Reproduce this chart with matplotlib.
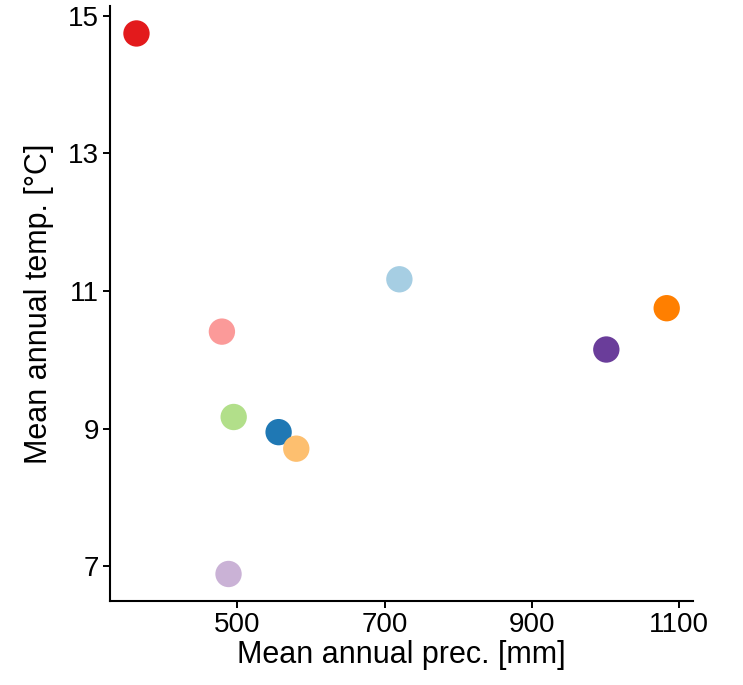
import matplotlib
matplotlib.use("Agg")
import matplotlib.pyplot as plt

plt.rcParams['font.family'] = ['Liberation Sans', 'DejaVu Sans']

# mean annual precipitation [mm] and temperature [degC]
prec = [363, 479, 495, 556, 580, 488, 720, 1001, 1083]
temp = [14.74, 10.41, 9.17, 8.95, 8.71, 6.89, 11.17, 10.15, 10.75]
colors = ['#E31A1C', '#FB9A99', '#B2DF8A', '#1F78B4', '#FDBF6F',
          '#CAB2D6', '#A6CEE3', '#6A3D9A', '#FF7F00']

xticks = [500, 700, 900, 1100]
yticks = [7, 9, 11, 13, 15]

fig = plt.figure(figsize=(7.43, 6.85), dpi=100)
ax = fig.add_axes([0.148, 0.1226, 0.785, 0.868])

ax.scatter(prec, temp, s=360, c=colors, edgecolors='none', zorder=3)

# ggplot-like 5% expansion
xr = max(prec) - min(prec)
yr = max(temp) - min(temp)
ax.set_xlim(min(prec) - 0.05 * xr, max(prec) + 0.05 * xr)
ax.set_ylim(min(temp) - 0.05 * yr, max(temp) + 0.05 * yr)

ax.set_xticks(xticks)
ax.set_yticks(yticks)
ax.tick_params(labelsize=20, length=5, width=1.4, color='black', pad=3)

for side in ['top', 'right']:
    ax.spines[side].set_visible(False)
for side in ['left', 'bottom']:
    ax.spines[side].set_linewidth(1.5)

ax.set_xlabel('Mean annual prec. [mm]', fontsize=22, labelpad=1)
ax.set_ylabel('Mean annual temp. [°C]', fontsize=22, labelpad=10)

fig.savefig('out.png', dpi=100)
